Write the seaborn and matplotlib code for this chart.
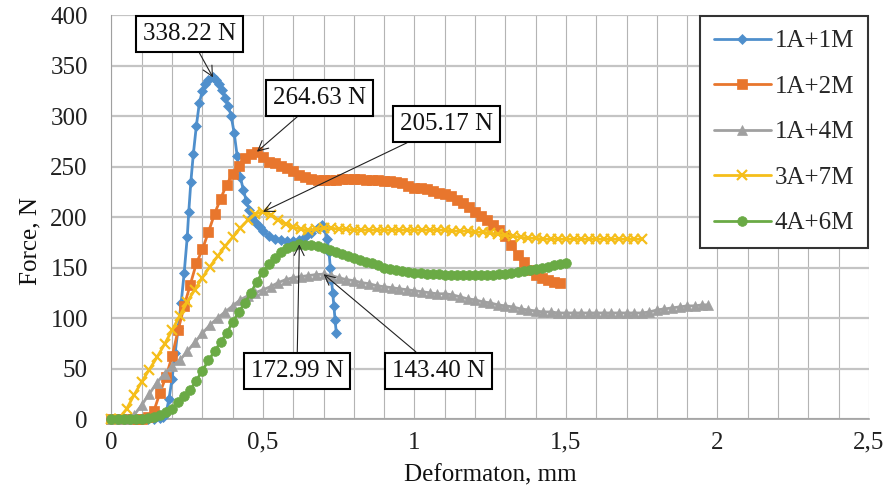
import matplotlib
matplotlib.use("Agg")
import matplotlib.pyplot as plt
import seaborn as sns
import pandas as pd
from matplotlib.ticker import MultipleLocator, FixedLocator, FixedFormatter
from matplotlib.lines import Line2D

# ---------------- data ----------------
labels = ["1A+1M", "1A+2M", "1A+4M", "3A+7M", "4A+6M"]

x_1a1m = [0, 0.02, 0.04, 0.06, 0.08, 0.10, 0.12, 0.14, 0.16, 0.17, 0.18, 0.19, 0.20, 0.21, 0.22,
          0.23, 0.24, 0.25, 0.255, 0.262, 0.27, 0.28, 0.29, 0.30, 0.31, 0.32, 0.335, 0.345, 0.355,
          0.365, 0.375, 0.385, 0.395, 0.405, 0.415, 0.425, 0.435, 0.445, 0.455, 0.465, 0.475, 0.49,
          0.50, 0.52, 0.54, 0.56, 0.58, 0.60, 0.62, 0.64, 0.66, 0.68, 0.695, 0.705, 0.712, 0.718,
          0.722, 0.726, 0.73, 0.734, 0.738, 0.742]
y_1a1m = [0, 0, 0, 0, 0, 0, 0, 0, 1, 2, 6, 20, 40, 65, 90,
          115, 145, 180, 205, 235, 262, 290, 313, 325, 332, 336, 338.22, 336, 332,
          326, 318, 310, 300, 283, 260, 240, 227, 216, 207, 200, 195, 190,
          186, 181, 178, 177, 176, 176, 177, 180, 184, 189, 192, 188, 178, 165,
          150, 138, 125, 112, 98, 85]

x_1a2m = [0, 0.02, 0.04, 0.06, 0.08, 0.10, 0.12, 0.14, 0.16, 0.18, 0.20, 0.22, 0.24, 0.26, 0.28,
          0.30, 0.32, 0.34, 0.36, 0.38, 0.40, 0.42, 0.44, 0.46, 0.48, 0.50, 0.52, 0.54, 0.56, 0.58,
          0.60, 0.62, 0.64, 0.66, 0.68, 0.70, 0.72, 0.74, 0.76, 0.78, 0.80, 0.82, 0.84, 0.86, 0.88,
          0.90, 0.92, 0.94, 0.96, 0.98, 1.00, 1.02, 1.04, 1.06, 1.08, 1.10, 1.12, 1.14, 1.16, 1.18,
          1.20, 1.22, 1.24, 1.26, 1.28, 1.30, 1.32, 1.34, 1.36, 1.38, 1.40, 1.42, 1.44, 1.46, 1.48]
y_1a2m = [0, 0, 0, 0, 0, 0, 2, 8, 26, 42, 62, 88, 112, 133, 154,
          168, 185, 203, 218, 232, 243, 251, 258, 262, 264.63, 259, 254, 253, 251, 249,
          246, 242, 240, 238, 237, 237, 237, 237, 238, 238, 238, 238, 237, 237, 237,
          236, 236, 235, 234, 231, 229, 229, 228, 226, 224, 223, 221, 217, 214, 210,
          205, 201, 197, 192, 187, 181, 172, 162, 155, 148, 143, 140, 138, 136, 135]

x_1a4m = [0, 0.025, 0.05, 0.075, 0.10, 0.125, 0.15, 0.175, 0.20, 0.225, 0.25, 0.275, 0.30, 0.325,
          0.35, 0.375, 0.40, 0.425, 0.45, 0.475, 0.50, 0.525, 0.55, 0.575, 0.60, 0.625, 0.65, 0.675,
          0.70, 0.725, 0.75, 0.775, 0.80, 0.825, 0.85, 0.875, 0.90, 0.925, 0.95, 0.975, 1.00, 1.025,
          1.05, 1.075, 1.10, 1.125, 1.15, 1.175, 1.20, 1.225, 1.25, 1.275, 1.30, 1.325, 1.35, 1.375,
          1.40, 1.425, 1.45, 1.475, 1.50, 1.525, 1.55, 1.575, 1.60, 1.625, 1.65, 1.675, 1.70, 1.725,
          1.75, 1.775, 1.80, 1.825, 1.85, 1.875, 1.90, 1.925, 1.95, 1.97]
y_1a4m = [0, 0, 0, 4, 14, 25, 36, 45, 52, 58, 67, 76, 85, 93,
          100, 106, 112, 118, 122, 125, 128, 131, 135, 138, 140, 141, 142, 143,
          143.40, 142, 140, 138, 137, 135, 134, 132, 131, 130, 129, 128, 127, 126,
          125, 124, 124, 123, 121, 119, 118, 116, 115, 113, 112, 111, 109, 108,
          107, 106, 106, 105, 105, 105, 105, 105, 105, 105, 105, 105, 105, 105,
          105, 106, 108, 109, 110, 111, 112, 112, 113, 113]

x_3a7m = [0, 0.025, 0.05, 0.075, 0.10, 0.125, 0.15, 0.175, 0.20, 0.225, 0.25, 0.275, 0.30, 0.325,
          0.35, 0.375, 0.40, 0.425, 0.45, 0.475, 0.50, 0.525, 0.55, 0.575, 0.60, 0.625, 0.65, 0.675,
          0.70, 0.725, 0.75, 0.775, 0.80, 0.825, 0.85, 0.875, 0.90, 0.925, 0.95, 0.975, 1.00, 1.025,
          1.05, 1.075, 1.10, 1.125, 1.15, 1.175, 1.20, 1.225, 1.25, 1.275, 1.30, 1.325, 1.35, 1.375,
          1.40, 1.425, 1.45, 1.475, 1.50, 1.525, 1.55, 1.575, 1.60, 1.625, 1.65, 1.675, 1.70, 1.725,
          1.75]
y_3a7m = [0, 0, 10, 24, 37, 49, 61, 74, 88, 102, 116, 128, 140, 151,
          161, 171, 180, 189, 197, 203, 205.17, 202, 197, 193, 190, 188, 187, 188,
          189, 189, 188, 188, 187, 187, 187, 187, 187, 187, 187, 187, 187, 187,
          187, 187, 187, 186, 186, 186, 185, 185, 184, 183, 182, 181, 180, 179,
          179, 178, 178, 178, 178, 178, 178, 178, 178, 178, 178, 178, 178, 178,
          178]

x_4a6m = [0, 0.02, 0.04, 0.06, 0.08, 0.10, 0.12, 0.14, 0.16, 0.18, 0.20, 0.22, 0.24, 0.26, 0.28,
          0.30, 0.32, 0.34, 0.36, 0.38, 0.40, 0.42, 0.44, 0.46, 0.48, 0.50, 0.52, 0.54, 0.56, 0.58,
          0.60, 0.62, 0.64, 0.66, 0.68, 0.70, 0.72, 0.74, 0.76, 0.78, 0.80, 0.82, 0.84, 0.86, 0.88,
          0.90, 0.92, 0.94, 0.96, 0.98, 1.00, 1.02, 1.04, 1.06, 1.08, 1.10, 1.12, 1.14, 1.16, 1.18,
          1.20, 1.22, 1.24, 1.26, 1.28, 1.30, 1.32, 1.34, 1.36, 1.38, 1.40, 1.42, 1.44, 1.46, 1.48,
          1.50]
y_4a6m = [0, 0, 0, 0, 0, 0, 1, 2, 4, 7, 10, 17, 23, 29, 38,
          48, 58, 67, 76, 85, 96, 106, 115, 125, 136, 146, 153, 159, 165, 169,
          171, 172.99, 172.5, 172, 171, 169, 167, 165, 163, 161, 159, 157, 155, 154, 152,
          150, 149, 148, 147, 146, 145, 145, 144, 144, 144, 143, 143, 143, 143, 143,
          143, 143, 143, 143, 144, 144, 145, 146, 147, 148, 149, 150, 151, 152, 153,
          154]

# peak annotations: (text, peak x, peak y, text x, text y)
ann_text = ["338.22 N", "264.63 N", "205.17 N", "172.99 N", "143.40 N"]
ann_xy = [(0.335, 338.22), (0.48, 264.63), (0.50, 205.17), (0.62, 172.99), (0.70, 143.40)]
ann_txt_xy = [(0.256, 381), (0.685, 318), (1.104, 292), (0.612, 48), (1.078, 48)]

x_ticks = [0, 0.5, 1, 1.5, 2, 2.5]
x_ticklabels = ["0", "0,5", "1", "1,5", "2", "2,5"]
y_ticks = [0, 50, 100, 150, 200, 250, 300, 350, 400]

# ---------------- styling ----------------
colors = ["#4F8FCC", "#E8762D", "#A0A0A0", "#F5BE1A", "#6AAA45"]
markers = ["D", "s", "^", "x", "o"]
msizes = [5, 7, 6.5, 6.5, 7]

sns.set_theme(style="white")
plt.rcParams["font.family"] = ["Liberation Serif", "DejaVu Serif"]
FS = 18

fig = plt.figure(figsize=(8.89, 4.94), dpi=100)
ax = fig.add_axes([0.1254, 0.1518, 0.8521, 0.8178])

series = [(x_1a1m, y_1a1m), (x_1a2m, y_1a2m), (x_1a4m, y_1a4m), (x_3a7m, y_3a7m), (x_4a6m, y_4a6m)]
for (xs, ys), lab, c, m, ms in zip(series, labels, colors, markers, msizes):
    df = pd.DataFrame({"x": xs, "y": ys})
    sns.lineplot(data=df, x="x", y="y", ax=ax, color=c, marker=m, markersize=ms,
                 markeredgecolor=c, markerfacecolor=c,
                 markeredgewidth=1.6 if m == "x" else 0.5,
                 linewidth=2.0, sort=False, estimator=None, legend=False, clip_on=False,
                 zorder=3)

ax.set_xlim(0, 2.5)
ax.set_ylim(0, 400)
ax.xaxis.set_major_locator(FixedLocator(x_ticks))
ax.xaxis.set_major_formatter(FixedFormatter(x_ticklabels))
ax.xaxis.set_minor_locator(MultipleLocator(0.1))
ax.yaxis.set_major_locator(FixedLocator(y_ticks))

ax.grid(False)
ax.grid(which="minor", axis="x", color="#b4b4b4", linewidth=0.8, zorder=0)
ax.grid(which="major", axis="x", color="#b4b4b4", linewidth=0.8, zorder=0)
ax.grid(which="major", axis="y", color="#c4c4c4", linewidth=1.6, zorder=0)
ax.set_axisbelow(True)

for s in ["top", "right"]:
    ax.spines[s].set_visible(False)
ax.spines["left"].set_color("#a0a0a0")
ax.spines["left"].set_linewidth(0.8)
ax.spines["bottom"].set_color("#a0a0a0")
ax.spines["bottom"].set_linewidth(1.2)

ax.tick_params(axis="both", which="both", length=0, labelsize=FS, colors="#202020")
ax.tick_params(axis="y", pad=17)
ax.tick_params(axis="x", pad=9)

ax.set_xlabel("Deformaton, mm", fontsize=FS, color="#111111")
ax.set_ylabel("Force, N", fontsize=FS, color="#111111")
ax.xaxis.set_label_coords(0.5, -0.112)
ax.yaxis.set_label_coords(-0.092, 0.44)

for t, xy, txy in zip(ann_text, ann_xy, ann_txt_xy):
    ax.annotate(t, xy=xy, xytext=txy, textcoords="data", fontsize=FS, ha="center", va="center",
                color="#111111",
                bbox=dict(boxstyle="square,pad=0.28", fc="white", ec="black", lw=1.5),
                arrowprops=dict(arrowstyle="->", color="#222222", lw=0.8, shrinkA=0, shrinkB=0),
                zorder=10)

handles = [Line2D([0], [0], color=c, marker=m, markersize=ms, markeredgecolor=c,
                  markeredgewidth=1.6 if m == "x" else 0.5, linewidth=2.0)
           for c, m, ms in zip(colors, markers, msizes)]
leg = ax.legend(handles, labels, loc="upper right", bbox_to_anchor=(0.9987, 0.9975),
                borderaxespad=0, fontsize=FS, frameon=True, fancybox=False,
                edgecolor="#333333", framealpha=1, labelspacing=0.92, handlelength=2.3,
                handletextpad=0.15, borderpad=0.55)
leg.get_frame().set_linewidth(1.5)
leg.set_zorder(20)

fig.savefig("out.png", dpi=100)
